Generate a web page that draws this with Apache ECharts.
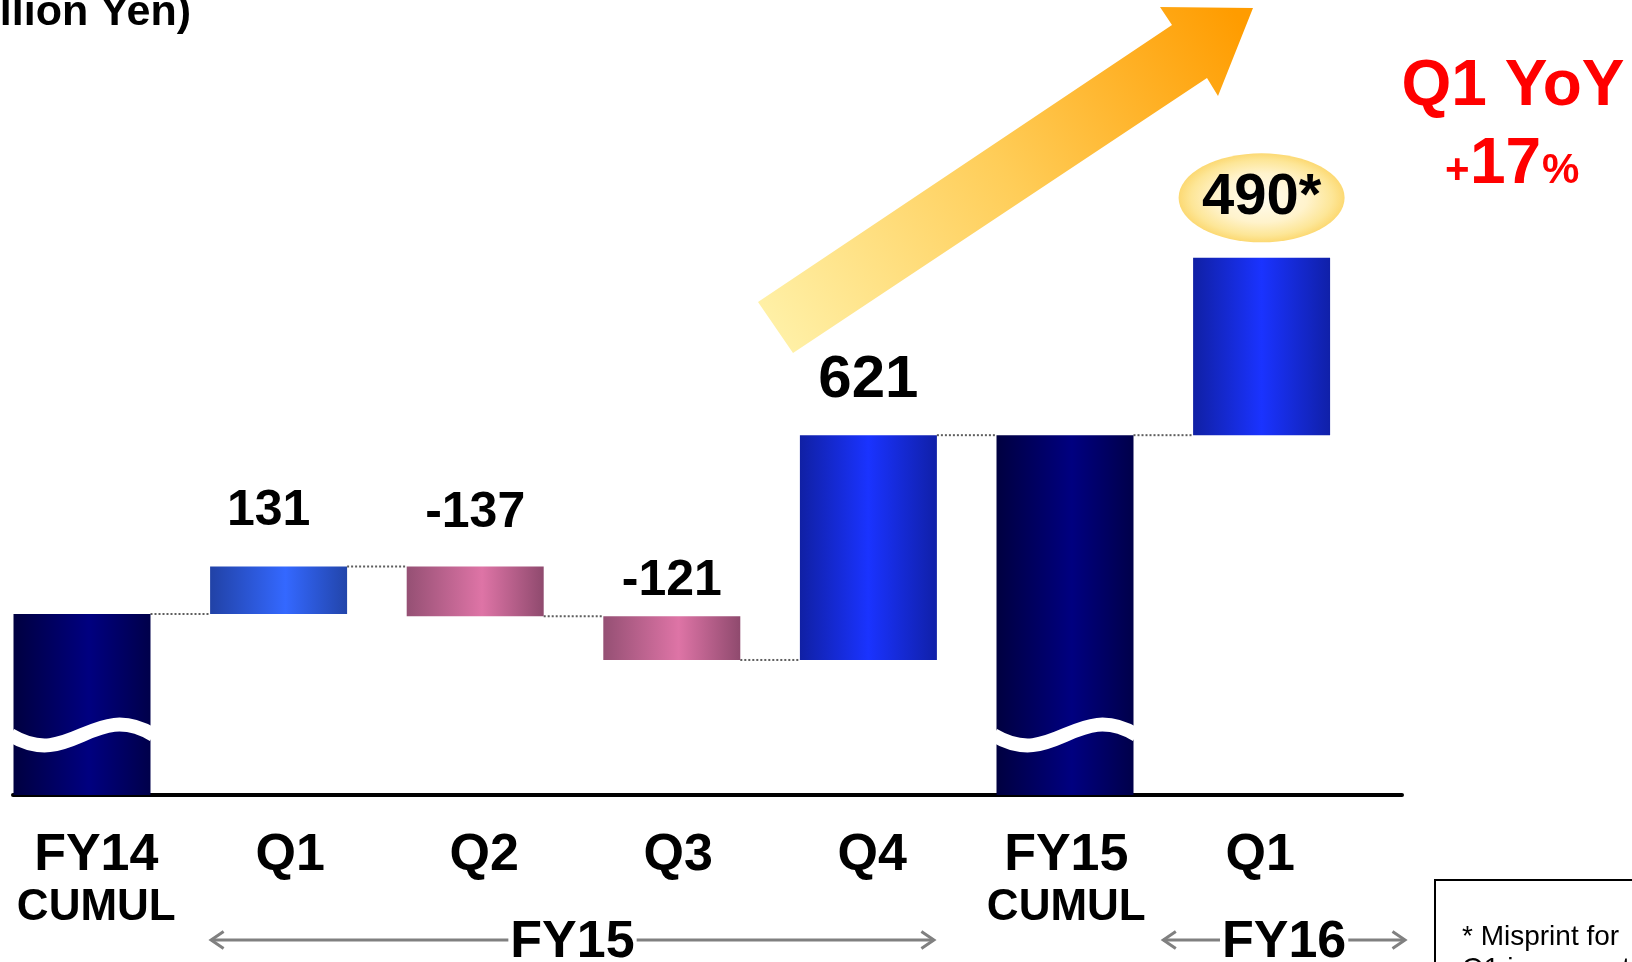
<!DOCTYPE html>
<html>
<head>
<meta charset="utf-8">
<script src="https://cdn.jsdelivr.net/npm/echarts@6/dist/echarts.min.js"></script>
<style>
  html, body { margin: 0; padding: 0; background: #fff; }
  #chart { width: 1632px; height: 962px; }
</style>
</head>
<body>
<div id="chart"></div>
<script>
// ---- data -------------------------------------------------------------
// Categories along the bottom axis
const categories = ['FY14\nCUMUL', 'Q1', 'Q2', 'Q3', 'Q4', 'FY15\nCUMUL', 'Q1'];
// 'cumul' = running-total bar (shown with an axis cut), 'delta' = quarterly change
const stepKinds = ['cumul', 'delta', 'delta', 'delta', 'delta', 'cumul', 'delta'];
// Quarterly increments, million yen (null for the cumulative bars)
const increments = [null, 131, -137, -121, 621, null, 490];
// Part of the FY14 cumulative bar kept above the axis cut
const fy14CumulAboveCut = 500;
// Fiscal-year brackets under the axis: [label, first index, last index]
const yearGroups = [['FY15', 1, 4], ['FY16', 6, 6]];
const yoyTitle = 'Q1 YoY';
const yoyPercent = 17;
const unitTitle = '(Million Yen)';
const footnoteLines = ['* Misprint for', 'Q1 increment'];

// ---- look -------------------------------------------------------------
const FONT = "'Liberation Sans', Arial, Helvetica, sans-serif";
const BAR_W = 137;
const GRAY = '#808080';
const barLook = [
  { fill: 'cumul' },
  { fill: 'lightUp', size: 50, gap: 30, dx: -10 },
  { fill: 'down', size: 50, gap: 28 },
  { fill: 'down', size: 50, gap: 10 },
  { fill: 'up', size: 60, gap: 25 },
  { fill: 'cumul' },
  { fill: 'up', bubble: true }
];
const hGrad = stops => new echarts.graphic.LinearGradient(0, 0, 1, 0,
  stops.map(([offset, color]) => ({ offset, color })));
const fills = {
  cumul: hGrad([[0, '#000040'], [0.55, '#000080'], [1, '#00004a']]),
  lightUp: hGrad([[0, '#2142a6'], [0.55, '#3468ff'], [1, '#2245aa']]),
  up: hGrad([[0, '#1020a4'], [0.5, '#1a33ff'], [1, '#1020a8']]),
  down: hGrad([[0, '#955074'], [0.55, '#de74a6'], [1, '#8f4a6e']])
};

// ---- waterfall geometry from the data ----------------------------------
let running = fy14CumulAboveCut;
const baseVals = [], barVals = [], levels = [];
stepKinds.forEach((kind, i) => {
  if (kind === 'cumul') {
    baseVals.push(0);
    barVals.push(running);
  } else {
    const d = increments[i];
    baseVals.push(Math.min(running, running + d));
    barVals.push(Math.abs(d));
    running += d;
  }
  levels.push(running);
});
const connectors = levels.slice(0, -1).map((lv, i) => [i, lv]);
const cutBars = stepKinds.map((k, i) => k === 'cumul' ? [i, 0] : null).filter(Boolean);
const bubbleBars = barLook.map((l, i) => l.bubble ? i : -1).filter(i => i >= 0);

const barData = barVals.map((v, i) => {
  const look = barLook[i];
  const item = { value: v, itemStyle: { color: fills[look.fill] } };
  if (stepKinds[i] === 'delta' && !look.bubble) {
    item.label = {
      show: true, position: 'top', distance: look.gap, offset: [look.dx || 0, 0],
      formatter: String(increments[i]),
      fontSize: look.size, lineHeight: look.size, fontWeight: 'bold',
      fontFamily: FONT, color: '#000'
    };
  }
  return item;
});

const chart = echarts.init(document.getElementById('chart'), null, { renderer: 'canvas' });

const gridBox = (left, right) => ({ left, right, top: 71, bottom: 167, outerBoundsMode: 'none', containLabel: false });

const option = {
  animation: false,
  backgroundColor: '#fff',
  grid: [
    gridBox(-16.3, 272.1),   // bars
    gridBox(13, 230),        // base line
    gridBox(-0.7, 274.7)     // category labels
  ],
  xAxis: [
    { gridIndex: 0, type: 'category', data: categories,
      axisLine: { show: false }, axisTick: { show: false }, axisLabel: { show: false } },
    { gridIndex: 1, type: 'value', min: 0, max: 1,
      axisLine: { show: true, onZero: false, lineStyle: { color: '#000', width: 4 } },
      axisTick: { show: false }, axisLabel: { show: false }, splitLine: { show: false } },
    { gridIndex: 2, type: 'category', data: categories,
      axisLine: { show: false }, axisTick: { show: false },
      axisLabel: {
        interval: 0, margin: 34,
        formatter: v => {
          const [a, b] = v.split('\n');
          return b ? `{main|${a}}\n{sub|${b}}` : `{main|${a}}`;
        },
        rich: {
          main: { fontSize: 52, fontWeight: 'bold', lineHeight: 53, fontFamily: FONT, color: '#000' },
          sub: { fontSize: 44, fontWeight: 'bold', lineHeight: 51, fontFamily: FONT, color: '#000' }
        }
      } }
  ],
  yAxis: [
    { gridIndex: 0, type: 'value', min: 0, max: 2000, show: false },
    { gridIndex: 1, type: 'value', min: 0, max: 1, show: false },
    { gridIndex: 2, type: 'value', min: 0, max: 1, show: false }
  ],
  series: [
    { // invisible floor of each floating bar
      type: 'bar', stack: 'wf', barWidth: BAR_W, data: baseVals, silent: true,
      itemStyle: { color: 'rgba(0,0,0,0)' }
    },
    { // visible bars
      type: 'bar', stack: 'wf', barWidth: BAR_W, data: barData, silent: true,
      markPoint: {
        silent: true,
        symbol: 'circle', symbolSize: [166, 89], symbolOffset: [0, -60],
        itemStyle: {
          color: new echarts.graphic.RadialGradient(0.5, 0.5, 0.5, [
            { offset: 0, color: '#fffcf0' }, { offset: 0.55, color: '#fff3cc' },
            { offset: 0.85, color: '#fde697' }, { offset: 1, color: '#fcd973' }
          ])
        },
        label: {
          show: true, position: 'inside', formatter: p => p.value + '*',
          fontSize: 58, fontWeight: 'bold', fontFamily: FONT, color: '#000'
        },
        data: bubbleBars.map(i => ({ coord: [i, levels[i]], value: increments[i] }))
      }
    },
    { // dotted steps between neighbouring bars
      type: 'custom', data: connectors, encode: { x: 0, y: 1 }, silent: true, z: 1,
      renderItem: (params, api) => {
        const i = api.value(0), lv = api.value(1);
        const a = api.coord([i, lv]), b = api.coord([i + 1, lv]);
        return {
          type: 'line',
          shape: { x1: a[0] + BAR_W / 2, y1: a[1], x2: b[0] - BAR_W / 2, y2: b[1] },
          style: { stroke: '#5e5e5e', lineWidth: 2, lineDash: [2, 2] }
        };
      }
    },
    { // wavy cut through the cumulative bars
      type: 'custom', data: cutBars, encode: { x: 0, y: 1 }, silent: true, z: 5,
      renderItem: (params, api) => {
        const p = api.coord([api.value(0), 0]);
        const L = p[0] - BAR_W / 2 - 3, R = p[0] + BAR_W / 2 + 3, w = R - L, cy = p[1] - 60;
        return {
          type: 'bezierCurve',
          shape: { x1: L, y1: cy, cpx1: L + w * 0.42, cpy1: cy + 36,
                   cpx2: L + w * 0.58, cpy2: cy - 36, x2: R, y2: cy },
          style: { stroke: '#fff', lineWidth: 14, fill: null }
        };
      }
    }
  ]
};
chart.setOption(option);

// ---- annotations --------------------------------------------------------
const px = i => chart.convertToPixel({ xAxisIndex: 0 }, i);
const axisY = chart.convertToPixel({ yAxisIndex: 0 }, 0);
const lineEnd = chart.convertToPixel({ xAxisIndex: 1 }, 1);

function bracket(x1, x2, y, label) {
  const head = 12.5, half = 8.5;
  const st = { stroke: GRAY, lineWidth: 3, fill: null };
  return [
    { type: 'line', silent: true, z: 10, shape: { x1, y1: y, x2, y2: y }, style: st },
    { type: 'polyline', silent: true, z: 10,
      shape: { points: [[x1 + head, y - half], [x1, y], [x1 + head, y + half]] }, style: st },
    { type: 'polyline', silent: true, z: 10,
      shape: { points: [[x2 - head, y - half], [x2, y], [x2 - head, y + half]] }, style: st },
    { type: 'text', silent: true, z: 11, x: (x1 + x2) / 2, y: y + 3,
      style: { text: label, font: `bold 52px ${FONT}`, fill: '#000', align: 'center',
               verticalAlign: 'middle', backgroundColor: '#fff', padding: [0, 2] } }
  ];
}

const bracketY = axisY + 145;
const graphics = [];
yearGroups.forEach(([label, first, last]) => {
  let x1, x2;
  if (first === last) {
    x1 = (px(first - 1) + px(first)) / 2;
    x2 = lineEnd + 3;
  } else {
    x1 = px(first) - BAR_W / 2 + 1;
    x2 = px(last) + BAR_W / 2 - 3;
  }
  graphics.push(...bracket(x1, x2, bracketY, label));
});

// rising trend arrow
graphics.push({
  type: 'polygon', silent: true, z: 0,
  shape: { points: [[758, 302], [1172, 25], [1160, 7], [1253, 8], [1218, 96], [1207, 78], [793, 353]] },
  style: {
    fill: new echarts.graphic.LinearGradient(775, 330, 1240, 20, [
      { offset: 0, color: '#fff0a6' }, { offset: 0.5, color: '#ffcd58' }, { offset: 1, color: '#ff9c00' }
    ], true)
  }
});

// unit title
graphics.push({
  type: 'text', silent: true, x: 191, y: 13,
  style: { text: unitTitle, font: `bold 43px ${FONT}`, fill: '#000', align: 'right', verticalAlign: 'middle' }
});

// year-on-year callout
graphics.push(
  { type: 'text', silent: true, x: 1513, y: 87,
    style: { text: yoyTitle, font: `bold 64px ${FONT}`, fill: '#ff0000', align: 'center', verticalAlign: 'middle' } },
  { type: 'text', silent: true, x: 1445, y: 171,
    style: { text: '+', font: `bold 42px ${FONT}`, fill: '#ff0000', align: 'left', verticalAlign: 'middle' } },
  { type: 'text', silent: true, x: 1470, y: 165,
    style: { text: String(yoyPercent), font: `bold 64px ${FONT}`, fill: '#ff0000', align: 'left', verticalAlign: 'middle' } },
  { type: 'text', silent: true, x: 1542, y: 171,
    style: { text: '%', font: `bold 42px ${FONT}`, fill: '#ff0000', align: 'left', verticalAlign: 'middle' } }
);

// footnote box
graphics.push(
  { type: 'rect', silent: true, z: 20, shape: { x: 1435, y: 880, width: 260, height: 140 },
    style: { fill: '#fff', stroke: '#000', lineWidth: 2 } },
  { type: 'text', silent: true, z: 21, x: 1462, y: 921,
    style: { text: footnoteLines.join('\n'), font: `28px ${FONT}`, lineHeight: 32,
             fill: '#000', align: 'left', verticalAlign: 'top' } }
);

chart.setOption({ graphic: graphics });
</script>
</body>
</html>
